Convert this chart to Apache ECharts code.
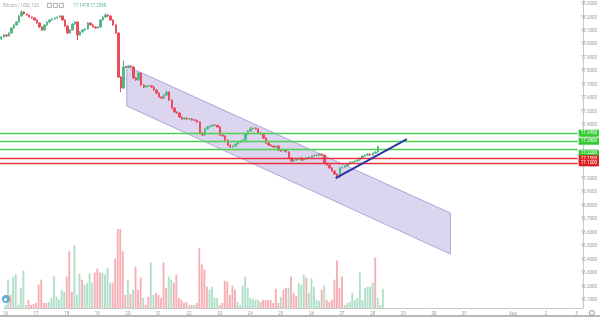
<!DOCTYPE html>
<html><head><meta charset="utf-8">
<script src="https://cdn.jsdelivr.net/npm/echarts@6/dist/echarts.min.js"></script>
<style>html,body{margin:0;padding:0;background:#fff}#c{width:600px;height:317px}</style>
</head><body><div id="c"></div>
<script>
// ---- data ----
const slotCount = 227; // candle slots incl. empty future space
const dayTickIndex = [0,12,24,36,48,60,72,84,96,108,120,132,144,156,168,180,199,212,224];
const dayTickLabels = ['16','17','18','19','20','21','22','23','24','25','26','27','28','29','30','31','Aug','2','3'];
// [open, close, low, high]
const candles = [
[18.040,18.055,18.034,18.061],[18.055,18.070,18.050,18.076],[18.070,18.062,18.057,18.074],[18.062,18.084,18.058,18.090],[18.084,18.122,18.080,18.128],
[18.122,18.144,18.117,18.150],[18.144,18.166,18.140,18.173],[18.166,18.211,18.162,18.218],[18.211,18.241,18.205,18.252],[18.241,18.226,18.220,18.246],
[18.226,18.218,18.213,18.230],[18.218,18.203,18.198,18.222],[18.203,18.196,18.190,18.207],[18.196,18.181,18.176,18.200],[18.181,18.159,18.153,18.186],
[18.159,18.129,18.122,18.164],[18.129,18.107,18.099,18.133],[18.107,18.144,18.102,18.150],[18.144,18.166,18.139,18.171],[18.166,18.181,18.161,18.186],
[18.181,18.188,18.176,18.193],[18.188,18.196,18.184,18.201],[18.196,18.203,18.191,18.208],[18.203,18.211,18.198,18.217],[18.211,18.181,18.175,18.215],
[18.181,18.136,18.130,18.186],[18.136,18.084,18.078,18.141],[18.084,18.107,18.079,18.113],[18.107,18.151,18.102,18.158],[18.151,18.166,18.146,18.172],
[18.166,18.070,18.032,18.171],[18.070,18.092,18.064,18.098],[18.092,18.107,18.087,18.112],[18.107,18.114,18.101,18.119],[18.114,18.159,18.109,18.165],
[18.159,18.144,18.139,18.164],[18.144,18.129,18.124,18.149],[18.129,18.122,18.117,18.134],[18.122,18.129,18.117,18.134],[18.129,18.181,18.124,18.188],
[18.181,18.203,18.176,18.209],[18.203,18.218,18.198,18.233],[18.218,18.211,18.205,18.224],[18.211,18.181,18.175,18.216],[18.181,18.144,18.138,18.186],
[18.144,18.084,18.078,18.150],[18.084,17.757,17.750,18.090],[17.757,17.675,17.645,17.765],[17.675,17.832,17.668,17.880],[17.832,17.830,17.825,17.840],
[17.830,17.839,17.825,17.845],[17.839,17.832,17.827,17.844],[17.832,17.750,17.744,17.838],[17.750,17.735,17.729,17.756],[17.735,17.787,17.730,17.793],
[17.787,17.698,17.692,17.792],[17.698,17.683,17.677,17.703],[17.683,17.690,17.678,17.695],[17.690,17.692,17.686,17.697],[17.692,17.683,17.678,17.697],
[17.683,17.661,17.655,17.688],[17.661,17.638,17.632,17.666],[17.638,17.609,17.603,17.643],[17.609,17.601,17.596,17.614],[17.601,17.623,17.596,17.629],
[17.623,17.646,17.618,17.652],[17.646,17.586,17.580,17.651],[17.586,17.527,17.521,17.591],[17.527,17.497,17.491,17.532],[17.497,17.490,17.485,17.502],
[17.490,17.460,17.454,17.495],[17.460,17.445,17.439,17.465],[17.445,17.452,17.440,17.457],[17.452,17.445,17.440,17.457],[17.445,17.447,17.440,17.452],
[17.447,17.438,17.433,17.452],[17.438,17.436,17.431,17.443],[17.436,17.423,17.418,17.441],[17.423,17.341,17.335,17.428],[17.341,17.326,17.320,17.346],
[17.326,17.371,17.321,17.377],[17.371,17.386,17.366,17.392],[17.386,17.393,17.381,17.398],[17.393,17.400,17.388,17.405],[17.400,17.398,17.393,17.405],
[17.398,17.386,17.381,17.403],[17.386,17.326,17.320,17.391],[17.326,17.319,17.313,17.331],[17.319,17.289,17.283,17.324],[17.289,17.252,17.246,17.294],
[17.252,17.237,17.231,17.257],[17.237,17.244,17.232,17.249],[17.244,17.259,17.239,17.264],[17.259,17.274,17.254,17.279],[17.274,17.281,17.269,17.286],
[17.281,17.289,17.276,17.294],[17.289,17.333,17.284,17.339],[17.333,17.356,17.328,17.362],[17.356,17.371,17.351,17.386],[17.371,17.378,17.366,17.383],
[17.378,17.371,17.366,17.383],[17.371,17.341,17.335,17.376],[17.341,17.333,17.328,17.346],[17.333,17.304,17.298,17.338],[17.304,17.267,17.261,17.309],
[17.267,17.252,17.246,17.272],[17.252,17.244,17.239,17.257],[17.244,17.237,17.232,17.249],[17.237,17.244,17.232,17.249],[17.244,17.214,17.208,17.249],
[17.214,17.207,17.202,17.219],[17.207,17.214,17.202,17.219],[17.214,17.200,17.195,17.219],[17.200,17.155,17.149,17.205],[17.155,17.133,17.127,17.160],
[17.133,17.140,17.128,17.145],[17.140,17.148,17.135,17.153],[17.148,17.155,17.143,17.160],[17.155,17.140,17.135,17.160],[17.140,17.148,17.135,17.153],
[17.148,17.155,17.143,17.160],[17.155,17.162,17.150,17.167],[17.162,17.170,17.157,17.175],[17.170,17.177,17.165,17.182],[17.177,17.175,17.170,17.182],
[17.175,17.185,17.170,17.190],[17.185,17.177,17.172,17.190],[17.177,17.118,17.112,17.182],[17.118,17.103,17.097,17.123],[17.103,17.081,17.075,17.108],
[17.081,17.058,17.052,17.086],[17.058,17.036,17.030,17.063],[17.036,17.014,16.999,17.041],[17.014,17.081,17.008,17.087],[17.081,17.088,17.076,17.093],
[17.088,17.096,17.083,17.101],[17.096,17.110,17.091,17.115],[17.110,17.125,17.105,17.130],[17.125,17.127,17.120,17.132],[17.127,17.133,17.122,17.138],
[17.133,17.140,17.128,17.145],[17.140,17.155,17.135,17.160],[17.155,17.170,17.150,17.175],[17.170,17.177,17.165,17.182],[17.177,17.185,17.172,17.190],
[17.185,17.177,17.172,17.190],[17.177,17.192,17.172,17.197],[17.192,17.200,17.187,17.205],[17.200,17.240,17.195,17.248]
];
const volumes = [
30,280,130,310,330,30,200,370,30,80,
30,40,50,230,280,50,50,60,100,310,
110,80,180,160,310,560,160,620,130,340,
280,230,250,340,250,350,390,350,350,330,
400,250,250,490,780,780,560,130,280,140,
180,410,180,300,100,30,110,450,130,150,
130,100,450,200,310,280,250,330,100,80,
50,60,30,30,30,50,590,430,380,210,
180,210,100,100,30,50,270,260,130,220,
180,60,30,220,310,200,100,90,80,80,
60,80,80,80,80,50,190,50,110,180,
200,200,310,150,120,250,230,330,300,150,
290,210,80,70,180,220,80,60,80,280,
470,200,310,30,50,60,150,80,100,350,
80,200,210,210,250,500,100,30,190
];
const greenLevels = [17.341, 17.281, 17.222];
const redLevels = [17.148, 17.118];
const lastPrice = 17.240;
const headerValues = ['17.1478', '17.2398'];
const channelX = [49.3, 176.5];
const channelUpper = [17.839, 16.746];
const channelLower = [17.542, 16.441];
const trendX = [131.4, 159.4];
const trendY = [17.006, 17.296];
const priceMin = 16.1, priceMax = 18.3, priceStep = 0.1;
const volumeMax = 3040;

// ---- chart ----
const UP = '#53b987', DOWN = '#eb4d5c';
const cats = Array.from({length: slotCount}, (_, i) => 's' + i);
const candleData = candles.map(c => c.slice());
const volData = volumes.map((v, i) => ({
  value: v,
  itemStyle: {color: candles[i][1] >= candles[i][0] ? 'rgba(83,185,135,0.45)' : 'rgba(235,77,92,0.45)'}
}));
const lvlLabel = (bg, off) => ({
  show: true, position: 'end', distance: 1, formatter: p => p.value.toFixed(4),
  backgroundColor: bg, color: '#fff', fontSize: 4.5, fontFamily: 'Roboto', padding: [1, 2, 1, 2],
  offset: off || [0, 0]
});
const markData = [];
greenLevels.forEach((v, i) => markData.push({yAxis: v, lineStyle: {color: '#4cd14c', width: 1.4, type: 'solid'},
  label: lvlLabel('#33cc33', i === 2 ? [0, 4] : [0, 0])}));
redLevels.forEach(v => markData.push({yAxis: v, lineStyle: {color: '#e8343c', width: 1.4, type: 'solid'}, label: lvlLabel('#e02020')}));
markData.push({yAxis: lastPrice, lineStyle: {opacity: 0}, label: lvlLabel('#3d9aa8', [0, -1])});

const chart = echarts.init(document.getElementById('c'), null, {renderer: 'canvas'});
chart.setOption({
  animation: false,
  backgroundColor: '#fff',
  grid: [
    {left: 0, width: 583, top: 4, height: 296},
    {left: 0, width: 583, top: 0, height: 308}
  ],
  xAxis: [
    {type: 'category', gridIndex: 0, data: cats, boundaryGap: true, show: false},
    {type: 'category', gridIndex: 1, data: cats, boundaryGap: true,
      axisLine: {lineStyle: {color: '#c8c8c8'}}, axisTick: {show: false}, splitLine: {show: false},
      axisLabel: {interval: (idx) => dayTickIndex.includes(idx), margin: 3, fontSize: 4.5, color: '#999', fontFamily: 'Roboto',
        formatter: (v, idx) => { const k = dayTickIndex.indexOf(idx); return k >= 0 ? dayTickLabels[k] : ''; }}},
    {type: 'value', gridIndex: 0, min: -0.5, max: slotCount - 0.5, show: false}
  ],
  yAxis: [
    {type: 'value', gridIndex: 0, position: 'right', min: priceMin, max: priceMax, interval: priceStep,
      axisLine: {show: false}, axisTick: {show: false}, splitLine: {show: false},
      axisLabel: {margin: 3, fontSize: 4.5, color: '#999', fontFamily: 'Roboto', formatter: v => v.toFixed(4)}},
    {type: 'value', gridIndex: 1, position: 'right', min: 0, max: volumeMax,
      axisLine: {show: true, lineStyle: {color: '#c8c8c8'}}, axisTick: {show: false}, axisLabel: {show: false}, splitLine: {show: false}}
  ],
  series: [
    {type: 'bar', xAxisIndex: 1, yAxisIndex: 1, data: volData, barWidth: '74%', z: 1},
    {type: 'custom', xAxisIndex: 2, yAxisIndex: 0, data: [[channelX[0], channelUpper[0]]], z: 2, silent: true,
      renderItem: (params, api) => {
        const pts = [
          api.coord([channelX[0], channelUpper[0]]), api.coord([channelX[1], channelUpper[1]]),
          api.coord([channelX[1], channelLower[1]]), api.coord([channelX[0], channelLower[0]])
        ];
        return {type: 'polygon', shape: {points: pts},
          style: {fill: 'rgba(126,105,200,0.28)', stroke: 'rgba(118,98,190,0.5)', lineWidth: 1}};
      }},
    {type: 'candlestick', xAxisIndex: 0, yAxisIndex: 0, data: candleData, barWidth: '75%', z: 3, clip: false,
      itemStyle: {color: UP, color0: DOWN, borderColor: UP, borderColor0: DOWN, borderWidth: 1},
      markLine: {symbol: ['none', 'none'], silent: true, data: markData, z: 4}},
    {type: 'line', xAxisIndex: 2, yAxisIndex: 0, data: [[trendX[0], trendY[0]], [trendX[1], trendY[1]]],
      symbol: 'none', lineStyle: {color: '#2b34a8', width: 2}, z: 5}
  ],
  graphic: [
    {type: 'text', left: 3, top: 3, style: {text: 'Bitcoin / USD, 120', fontSize: 4.5, fill: '#aaa', fontFamily: 'Roboto'}},
    {type: 'rect', left: 47, top: 3, shape: {width: 4, height: 4}, style: {fill: '#fff', stroke: '#999', lineWidth: 0.8}},
    {type: 'rect', left: 53, top: 3, shape: {width: 4, height: 4}, style: {fill: '#fff', stroke: '#999', lineWidth: 0.8}},
    {type: 'rect', left: 59, top: 3, shape: {width: 4, height: 4}, style: {fill: '#fff', stroke: '#999', lineWidth: 0.8}},
    {type: 'text', left: 73, top: 3, style: {text: headerValues[0], fontSize: 4.5, fill: '#53b987', fontFamily: 'Roboto'}},
    {type: 'text', left: 90, top: 3, style: {text: headerValues[1], fontSize: 4.5, fill: '#53b987', fontFamily: 'Roboto'}},
    {type: 'circle', left: 2, top: 295, shape: {r: 4}, style: {fill: '#6aa9dc'}},
    {type: 'circle', left: 4, top: 298, shape: {r: 1.5}, style: {fill: '#fff'}},
    {type: 'rect', left: 0, top: 315, shape: {width: 600, height: 2}, style: {fill: '#b8b8b8'}},
    {type: 'circle', left: 589, top: 310, shape: {r: 2.5}, style: {fill: '#fff', stroke: '#777', lineWidth: 0.8}}
  ]
});
</script>
</body></html>
